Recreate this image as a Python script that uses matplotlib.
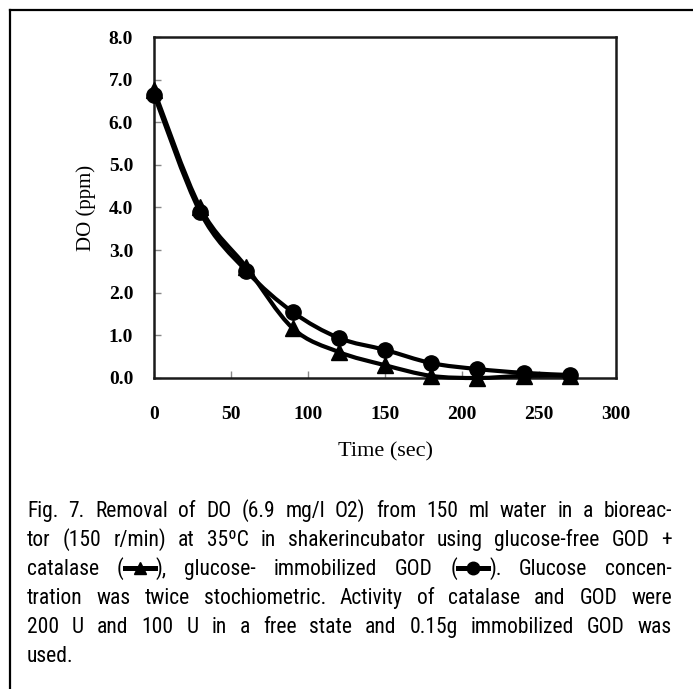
import matplotlib
matplotlib.use("Agg")
import matplotlib.pyplot as plt
from matplotlib.path import Path
from matplotlib.patches import PathPatch
from matplotlib.lines import Line2D
from matplotlib import font_manager

# ---------------- data ----------------
time_sec = [0, 30, 60, 90, 120, 150, 180, 210, 240, 270]
do_free_god_catalase = [6.75, 4.0, 2.6, 1.17, 0.61, 0.30, 0.05, 0.0, 0.05, 0.05]   # triangles
do_immobilized_god = [6.65, 3.89, 2.51, 1.55, 0.94, 0.66, 0.35, 0.21, 0.12, 0.07]   # circles

x_ticks = [0, 50, 100, 150, 200, 250, 300]
y_ticks = [0.0, 1.0, 2.0, 3.0, 4.0, 5.0, 6.0, 7.0, 8.0]
x_label = "Time (sec)"
y_label = "DO (ppm)"

caption_lines = [
    "Fig. 7. Removal of DO (6.9 mg/l O2) from 150 ml water in a bioreac-",
    "tor (150 r/min) at 35ºC in shakerincubator using glucose-free GOD +",
    "catalase ({TRI}), glucose- immobilized GOD ({CIR}). Glucose concen-",
    "tration was twice stochiometric. Activity of catalase and GOD were",
    "200 U and 100 U in a free state and 0.15g immobilized GOD was",
    "used.",
]

# ---------------- fonts ----------------
def pick(fams):
    for f in fams:
        try:
            font_manager.findfont(font_manager.FontProperties(family=f), fallback_to_default=False)
            return f
        except Exception:
            pass
    return "DejaVu Sans"

serif = pick(["Liberation Serif", "DejaVu Serif"])
narrow = pick(["Roboto Condensed", "Liberation Sans Narrow", "Liberation Sans", "DejaVu Sans"])

W, H = 693, 689
fig = plt.figure(figsize=(W / 100, H / 100), dpi=100)

# outer frame (top & left visible)
fig.add_artist(Line2D([10 / W, 1.0], [1 - 10 / H, 1 - 10 / H], color="black", lw=1.6,
                      transform=fig.transFigure))
fig.add_artist(Line2D([10 / W, 10 / W], [0.0, 1 - 10 / H], color="black", lw=1.6,
                      transform=fig.transFigure))

left, right, top, bottom = 154 / W, 616 / W, 1 - 37 / H, 1 - 378 / H
ax = fig.add_axes([left, bottom, right - left, top - bottom])
ax.set_xlim(0, 300)
ax.set_ylim(0, 8)
ax.set_xticks(x_ticks)
ax.set_yticks(y_ticks)
ax.set_xticklabels([str(v) for v in x_ticks])
ax.set_yticklabels([f"{v:.1f}" for v in y_ticks])
for s in ax.spines.values():
    s.set_color("#1a1a1a")
    s.set_linewidth(1.8)
ax.tick_params(axis="x", direction="in", length=5, width=1, color="#888888", pad=20)
ax.tick_params(axis="y", direction="in", length=5, width=1, color="#888888", pad=15)
for lab in ax.get_xticklabels() + ax.get_yticklabels():
    lab.set_fontfamily(serif)
    lab.set_fontweight("bold")
    lab.set_fontsize(14)
ax.set_xlabel(x_label, fontfamily=serif, fontsize=16, labelpad=14)
ax.set_ylabel(y_label, fontfamily=serif, fontsize=15, labelpad=9)


def smooth_path(xs, ys):
    pts = list(zip(xs, ys))
    verts = [pts[0]]
    codes = [Path.MOVETO]
    n = len(pts)
    for i in range(n - 1):
        p0 = pts[i - 1] if i > 0 else pts[i]
        p1 = pts[i]
        p2 = pts[i + 1]
        p3 = pts[i + 2] if i + 2 < n else pts[i + 1]
        c1 = (p1[0] + (p2[0] - p0[0]) / 6, p1[1] + (p2[1] - p0[1]) / 6)
        c2 = (p2[0] - (p3[0] - p1[0]) / 6, p2[1] - (p3[1] - p1[1]) / 6)
        verts += [c1, c2, p2]
        codes += [Path.CURVE4] * 3
    return Path(verts, codes)


for ys in (do_free_god_catalase, do_immobilized_god):
    ax.add_patch(PathPatch(smooth_path(time_sec, ys), facecolor="none", edgecolor="black",
                           lw=3.0, clip_on=False, zorder=3))
ax.plot(time_sec, do_free_god_catalase, linestyle="none", marker="^", ms=11, color="black",
        clip_on=False, zorder=4)
ax.plot(time_sec, do_immobilized_god, linestyle="none", marker="o", ms=11, color="black",
        clip_on=False, zorder=5)

# ---------------- caption (justified) ----------------
cap_left, cap_right = 27, 672
line_y0, line_step = 517, 29
fsize = 15.5
sym_w = 32

fig.canvas.draw()
renderer = fig.canvas.get_renderer()


def text_width(s):
    t = fig.text(0, 0, s, fontsize=fsize, family=narrow)
    w = t.get_window_extent(renderer).width
    t.remove()
    return w


def parse_word(word):
    segs = []
    buf = ""
    i = 0
    while i < len(word):
        if word.startswith("{TRI}", i) or word.startswith("{CIR}", i):
            if buf:
                segs.append(("t", buf))
                buf = ""
            segs.append(("s", word[i + 1:i + 4]))
            i += 5
        else:
            buf += word[i]
            i += 1
    if buf:
        segs.append(("t", buf))
    return segs


def seg_width(seg):
    return sym_w if seg[0] == "s" else text_width(seg[1])


space_w = text_width("a a") - text_width("aa")
for li, line in enumerate(caption_lines):
    words = [parse_word(w) for w in line.split(" ")]
    widths = [sum(seg_width(s) for s in w) for w in words]
    last = li == len(caption_lines) - 1
    if last or len(words) == 1:
        gap = space_w
    else:
        gap = (cap_right - cap_left - sum(widths)) / (len(words) - 1)
        gap = max(gap, 0.6 * space_w)
    x = cap_left
    ybase = line_y0 + li * line_step
    for w, wd in zip(words, widths):
        xx = x
        for seg in w:
            sw = seg_width(seg)
            if seg[0] == "t":
                fig.text(xx / W, 1 - ybase / H, seg[1], fontsize=fsize, family=narrow,
                         ha="left", va="baseline")
            else:
                yc = 1 - (ybase - 7) / H
                fig.add_artist(Line2D([(xx + 1) / W, (xx + sw - 1) / W], [yc, yc], color="black",
                                      lw=3.6, transform=fig.transFigure))
                mk = "^" if seg[1] == "TRI" else "o"
                fig.add_artist(Line2D([(xx + sw / 2) / W], [yc], marker=mk, ms=9, color="black",
                                      linestyle="none", transform=fig.transFigure))
            xx += sw
        x += wd + gap

fig.savefig("out.png", dpi=100)
